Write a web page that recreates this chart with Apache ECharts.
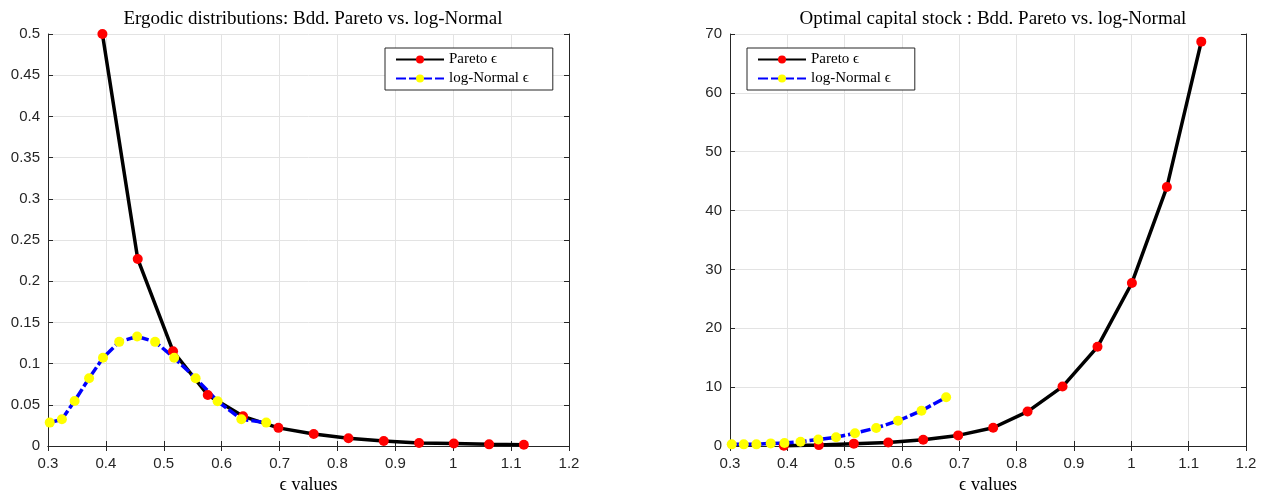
<!DOCTYPE html>
<html>
<head>
<meta charset="utf-8">
<script src="https://cdn.jsdelivr.net/npm/echarts@6/dist/echarts.min.js"></script>
<style>
  html, body { margin: 0; padding: 0; background: #fff; }
  #chart { width: 1273px; height: 496px; }
</style>
</head>
<body>
<div id="chart"></div>
<script>
// epsilon grid points
var paretoEps = [0.394, 0.455, 0.516, 0.576, 0.637, 0.698, 0.759, 0.819, 0.880, 0.941, 1.001, 1.062, 1.122];
var lognormEps = [0.303, 0.324, 0.346, 0.371, 0.395, 0.423, 0.454, 0.485, 0.518, 0.555, 0.593, 0.634, 0.677];

// left panel: ergodic distributions
var paretoDist = [0.5, 0.227, 0.115, 0.062, 0.036, 0.022, 0.0145, 0.0095, 0.006, 0.0037, 0.003, 0.002, 0.0015];
var lognormDist = [0.0284, 0.0324, 0.0547, 0.0823, 0.107, 0.1264, 0.1329, 0.1264, 0.107, 0.0823, 0.0543, 0.0324, 0.0284];

// right panel: optimal capital stock
var paretoK = [0.05, 0.15, 0.4, 0.6, 1.05, 1.8, 3.1, 5.85, 10.1, 16.85, 27.7, 44.0, 68.7];
var lognormK = [0.28, 0.28, 0.28, 0.44, 0.5, 0.72, 1.11, 1.5, 2.17, 3.06, 4.28, 6.0, 8.28];

var xTicks = [0.3, 1.2, 0.1];
var leftY = [0, 0.5, 0.05];
var rightY = [0, 70, 10];

function pairs(xs, ys) {
  return xs.map(function (x, i) { return [x, ys[i]]; });
}

var axisColor = '#262626';
var serif = '"Liberation Serif", "DejaVu Serif", serif';
var sans = '"Liberation Sans", Arial, sans-serif';

function xAxis(gi, top) {
  return {
    type: 'value', gridIndex: gi, position: top ? 'top' : 'bottom',
    min: xTicks[0], max: xTicks[1], interval: xTicks[2],
    name: top ? '' : 'ϵ values', nameLocation: 'middle', nameGap: 29,
    nameTextStyle: { fontFamily: serif, fontSize: 18, color: '#000' },
    axisLine: { show: true, lineStyle: { color: axisColor } },
    axisTick: { show: true, inside: true, length: 5, lineStyle: { color: axisColor } },
    axisLabel: { show: !top, fontFamily: sans, fontSize: 15, color: axisColor, margin: 10 },
    splitLine: { show: !top, lineStyle: { color: '#e3e3e3' } }
  };
}
function yAxis(gi, r, right) {
  return {
    type: 'value', gridIndex: gi, position: right ? 'right' : 'left',
    min: r[0], max: r[1], interval: r[2],
    axisLine: { show: true, lineStyle: { color: axisColor } },
    axisTick: { show: true, inside: true, length: 5, lineStyle: { color: axisColor } },
    axisLabel: { show: !right, fontFamily: sans, fontSize: 15, color: axisColor, margin: 8 },
    splitLine: { show: !right, lineStyle: { color: '#e3e3e3' } }
  };
}

function pareto(xi, yi, data) {
  return {
    name: 'Pareto ϵ', type: 'line', xAxisIndex: xi, yAxisIndex: yi,
    data: data, symbol: 'circle', symbolSize: 10, clip: false,
    lineStyle: { color: '#000', width: 3.5 },
    itemStyle: { color: '#ff0000' }, animation: false
  };
}
function lognorm(xi, yi, data) {
  return {
    name: 'log-Normal ϵ', type: 'line', xAxisIndex: xi, yAxisIndex: yi,
    data: data, symbol: 'circle', symbolSize: 10, clip: false,
    lineStyle: { color: '#0000ff', width: 3.5, type: [10, 3] },
    itemStyle: { color: '#ffff00' }, animation: false
  };
}

function legend(left) {
  return {
    left: left, top: 48, orient: 'vertical',
    data: ['Pareto ϵ', 'log-Normal ϵ'],
    itemWidth: 48, itemHeight: 10, itemGap: 4,
    padding: [4, 24, 4, 10],
    borderColor: axisColor, borderWidth: 1, borderRadius: 0,
    backgroundColor: '#fff',
    textStyle: { fontFamily: serif, fontSize: 15, lineHeight: 15, color: '#000' }
  };
}

var chart = echarts.init(document.getElementById('chart'), null, { renderer: 'canvas' });
chart.setOption({
  animation: false,
  title: [
    { text: 'Ergodic distributions: Bdd. Pareto vs. log-Normal', left: 308, top: 5, textAlign: 'center',
      textStyle: { fontFamily: serif, fontSize: 19, fontWeight: 'normal', color: '#000' } },
    { text: 'Optimal capital stock : Bdd. Pareto vs. log-Normal', left: 988, top: 5, textAlign: 'center',
      textStyle: { fontFamily: serif, fontSize: 19, fontWeight: 'normal', color: '#000' } }
  ],
  legend: [legend(385), legend(747)],
  grid: [
    { left: 48, right: 704, top: 34, bottom: 50, containLabel: false, outerBoundsMode: 'none' },
    { left: 730, right: 27, top: 34, bottom: 50, containLabel: false, outerBoundsMode: 'none' }
  ],
  xAxis: [xAxis(0, false), xAxis(0, true), xAxis(1, false), xAxis(1, true)],
  yAxis: [yAxis(0, leftY, false), yAxis(0, leftY, true), yAxis(1, rightY, false), yAxis(1, rightY, true)],
  series: [
    pareto(0, 0, pairs(paretoEps, paretoDist)),
    lognorm(0, 0, pairs(lognormEps, lognormDist)),
    pareto(2, 2, pairs(paretoEps, paretoK)),
    lognorm(2, 2, pairs(lognormEps, lognormK))
  ]
});
</script>
</body>
</html>
